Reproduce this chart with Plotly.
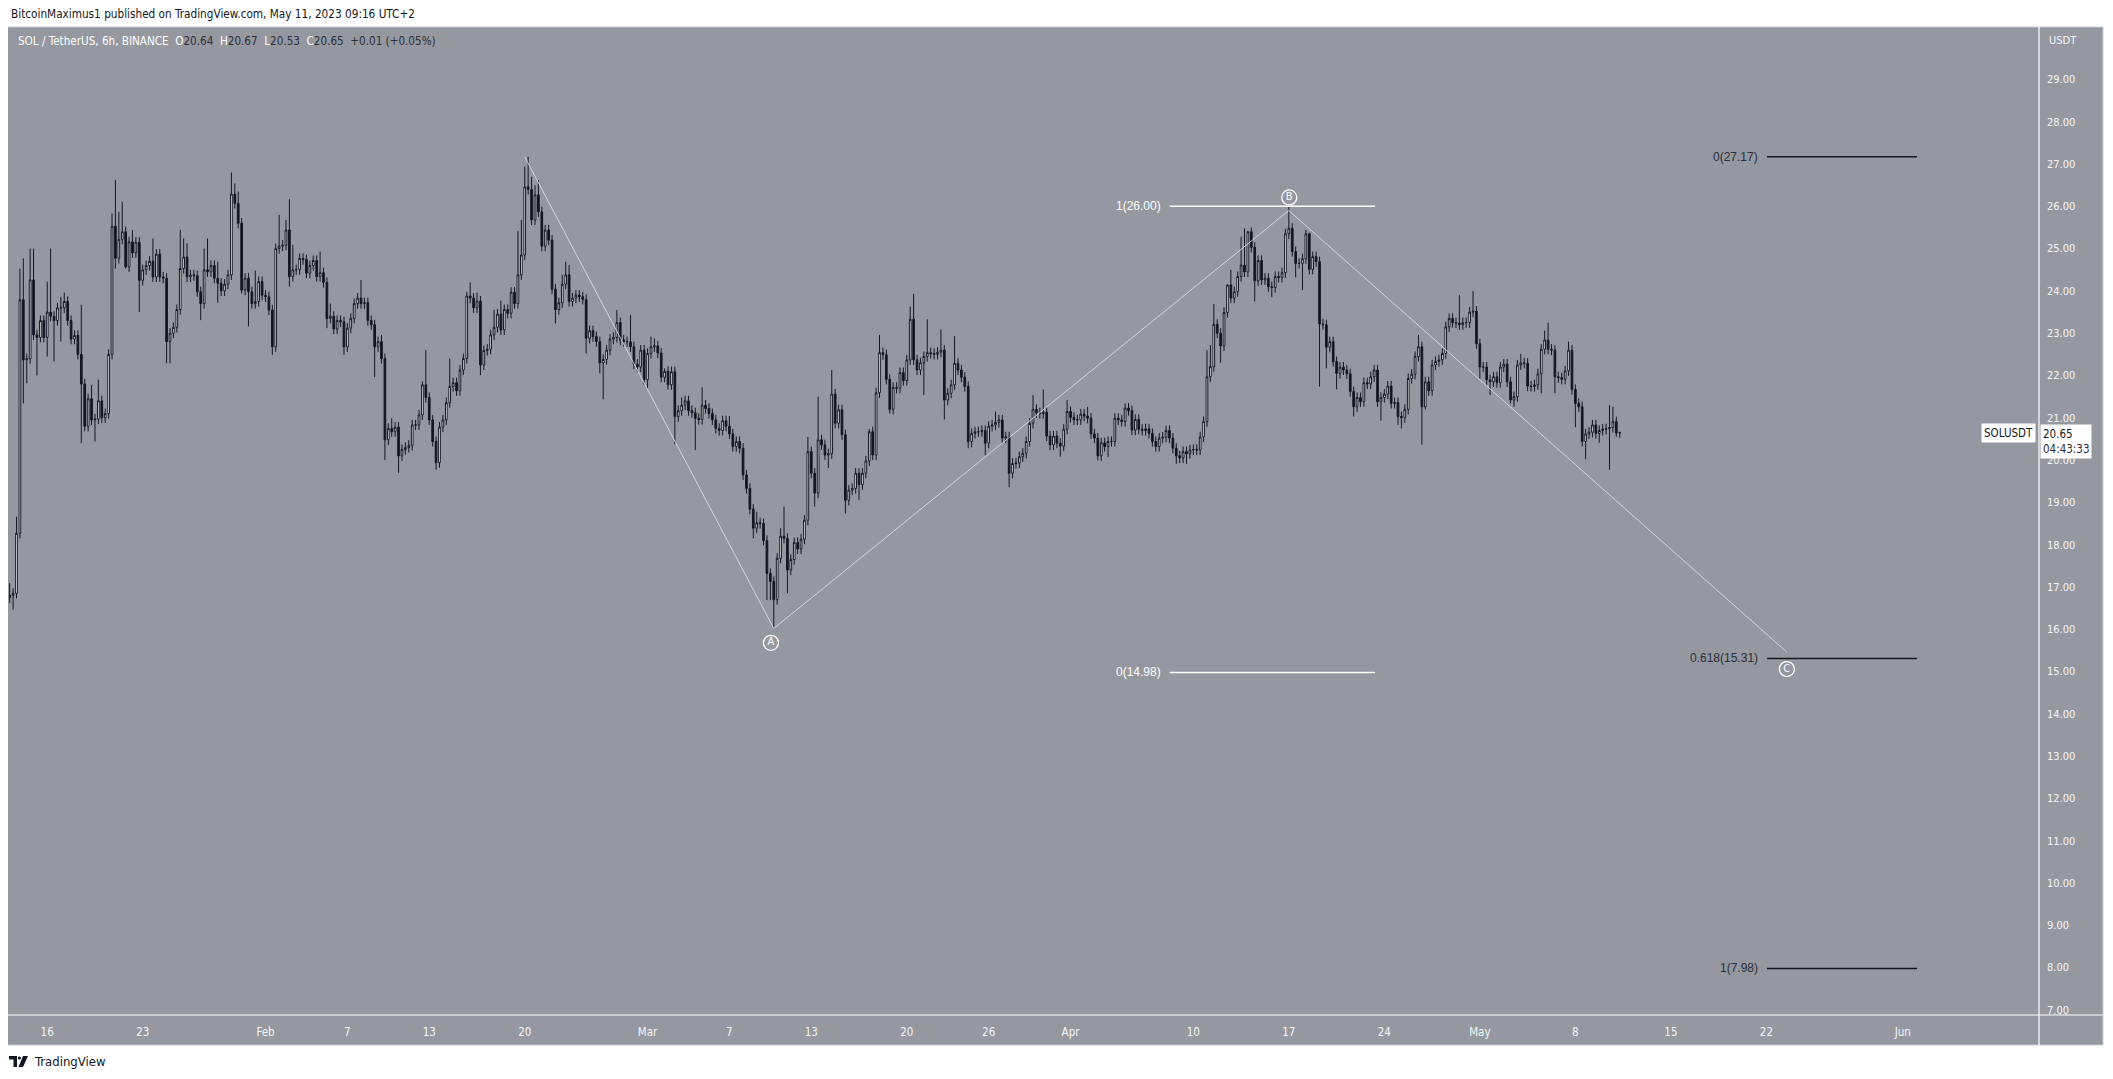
import plotly.graph_objects as go
import pandas as pd

# ---------------- canvas geometry (page pixels; the page body adds an 8px margin) ----------------
OFF = 8
W, H = 2113 - 2 * OFF, 1079 - 2 * OFF
ML, MR, MT, MB = 1, 66, 19, 56
PW = W - ML - MR
PH = H - MT - MB


def px(x):
    return (x - OFF - ML) / PW


def py(y):
    return (H - MB - (y - OFF)) / PH


# ---------------- data (6h SOL/USDT candles) ----------------
START = "2023-01-13 06:00"
FREQ = "6h"
FIRST_OPEN = 16.75

CLOSE_JAN = [
    16.8, 16.85, 18.27, 23.79, 22.37, 22.4, 24.26, 22.96, 22.9, 23.3,
    22.9, 23.5, 23.4, 23.3, 23.6, 23.6, 23.75, 23.3, 22.86, 22.95,
    22.5, 21.8, 20.8, 21.45, 20.95, 20.97, 21.4, 21.0, 21.1, 22.5,
    25.53, 24.77, 25.22, 25.4, 24.57, 25.16, 24.9, 25.15, 24.25, 24.5,
    24.6, 24.7, 24.33, 24.87, 24.33, 24.3, 22.8, 23.0, 23.14, 23.56,
    24.53, 24.8, 24.33, 24.38, 24.36, 23.98, 23.7, 24.5, 24.45, 24.6,
    24.3, 24.18, 24.0, 24.16, 24.38, 26.29, 26.07, 25.6, 24.02, 24.3,
    23.98, 23.7, 23.75, 24.22, 23.9, 23.86, 23.55, 22.68, 25.0, 25.06,
    25.08, 25.44, 24.34, 24.5, 24.5, 24.77, 24.74, 24.42, 24.6, 24.72,
    24.34, 24.43, 24.2, 23.35,
]
CLOSE_FEB = [
    23.4, 23.1, 23.3, 23.27, 22.68, 23.12, 23.35, 23.7, 23.83, 23.7,
    23.72, 23.3, 23.2, 22.68, 22.8, 22.4, 20.48, 20.75, 20.67, 20.78,
    20.1, 20.25, 20.3, 20.35, 20.83, 20.83, 21.07, 21.78, 21.48, 20.95,
    20.44, 19.94, 20.78, 20.95, 21.36, 21.74, 21.83, 21.64, 22.13, 22.4,
    23.88, 23.83, 23.6, 23.76, 22.25, 22.59, 22.62, 22.96, 23.14, 23.45,
    23.08, 23.56, 23.47, 23.97, 23.7, 24.38, 24.85, 26.46, 26.4, 25.68,
    26.27, 25.87, 25.06, 25.44, 25.2, 24.04, 23.56, 23.72, 24.16, 24.38,
    23.75, 23.83, 23.9, 23.86, 23.8, 22.88, 23.06, 22.92, 22.8, 22.3,
    22.38, 22.6, 22.86, 22.9, 23.25, 22.84, 22.8, 22.8, 22.68, 22.27,
    22.2, 22.6, 21.9, 22.52, 22.68,
]
CLOSE_MAR = [
    22.7, 22.53, 21.96, 22.1, 21.78, 22.09, 21.03, 21.17, 21.3, 21.4,
    21.17, 21.12, 20.99, 20.96, 21.3, 21.22, 21.1, 20.95, 20.75, 20.7,
    20.93, 20.8, 20.62, 20.32, 20.44, 20.28, 19.65, 19.33, 18.84, 18.39,
    18.52, 18.5, 18.1, 17.32, 17.13, 16.7, 17.68, 18.2, 18.15, 17.4,
    17.65, 18.05, 17.9, 18.13, 18.58, 20.2, 19.69, 19.22, 20.48, 20.36,
    20.12, 20.15, 21.56, 20.87, 21.19, 20.6, 19.05, 19.29, 19.33, 19.69,
    19.42, 19.69, 19.98, 20.67, 20.12, 21.59, 22.54, 22.49, 21.91, 21.2,
    21.72, 21.7, 22.07, 21.88, 22.37, 23.33, 22.37, 22.13, 22.3, 22.45,
    22.54, 22.52, 22.5, 22.55, 22.6, 21.42, 21.58, 21.78, 22.29, 22.13,
    21.96, 21.74, 20.44, 20.63, 20.67,
]
CLOSE_APR = [
    20.67, 20.7, 20.4, 20.8, 20.83, 20.89, 20.95, 20.52, 20.55, 19.69,
    19.92, 19.93, 20.08, 20.16, 20.44, 20.87, 21.2, 21.12, 21.1, 21.13,
    20.57, 20.36, 20.57, 20.4, 20.33, 20.73, 21.15, 21.01, 20.95, 20.95,
    21.09, 21.04, 20.99, 20.62, 20.52, 20.1, 20.41, 20.32, 20.44, 20.44,
    20.99, 20.95, 20.91, 21.23, 21.17, 20.71, 20.96, 20.73, 20.7, 20.74,
    20.63, 20.44, 20.32, 20.52, 20.54, 20.7, 20.52, 20.28, 20.1, 20.05,
    20.2, 20.15, 20.24, 20.25, 20.24, 20.55, 20.91, 21.97, 22.21, 23.21,
    23.0, 22.7, 23.49, 24.14, 23.83, 23.98, 24.34, 24.61, 24.45, 25.4,
    25.03, 24.24, 24.72, 24.26, 24.3, 24.1, 24.08, 24.34, 24.32, 24.43,
    25.35, 25.48, 24.93, 24.65, 24.65,
]
CLOSE_MAY = [
    24.76, 25.35, 24.51, 24.81, 24.69, 23.22, 23.2, 22.67, 22.8, 22.33,
    22.05, 22.2, 22.13, 22.04, 21.62, 21.26, 21.48, 21.38, 21.83, 21.8,
    21.97, 22.13, 21.38, 21.48, 21.56, 21.75, 21.34, 21.36, 21.03, 21.0,
    21.2, 21.93, 22.03, 22.45, 22.68, 21.26, 21.85, 21.64, 22.25, 22.33,
    22.37, 22.52, 23.15, 23.35, 23.25, 23.24, 23.2, 23.25, 23.25, 23.5,
    23.52, 22.75, 22.2, 22.2, 21.9, 21.85, 21.97, 21.83, 22.2, 22.27,
    21.85, 21.42, 21.5, 22.25, 22.3, 22.29, 21.75, 21.74, 21.78, 22.04,
    22.62, 22.84, 22.62, 22.6, 21.97, 21.95, 21.91, 22.11, 22.6, 21.67,
    21.34, 21.26, 20.44, 20.62, 20.66, 20.83, 20.63, 20.7, 20.73, 20.74,
    20.77, 20.91, 20.64, 20.65,
]

# notable wick extremes (candle index -> price)
WICK_HIGH = {
    0: 17.09, 2: 18.66, 3: 24.53, 4: 24.77, 6: 25.0, 7: 25.0, 11: 24.22, 12: 25.0, 15: 23.86, 16: 23.96,
    21: 23.67, 24: 21.78, 26: 21.9, 30: 25.83, 31: 26.62, 32: 25.87, 33: 26.11, 36: 25.44, 42: 25.24, 50: 25.44,
    51: 25.24, 52: 25.13, 57: 25.0, 58: 25.24, 61: 24.69, 65: 26.8, 66: 26.54, 67: 26.35, 72: 24.48, 79: 25.8,
    81: 25.68, 82: 26.17, 83: 25.09, 91: 24.93,
    94: 23.7, 103: 24.26, 109: 22.96, 112: 20.99, 121: 21.86, 122: 22.6, 129: 22.4, 132: 22.25, 134: 23.98, 135: 24.2,
    137: 23.96, 142: 23.55, 144: 23.77, 149: 25.42, 150: 25.68, 151: 26.94, 152: 27.17, 153: 26.7, 154: 26.5, 155: 26.62,
    162: 24.38, 163: 24.69, 164: 24.61, 178: 23.55, 182: 23.43, 188: 22.92,
    189: 22.88, 192: 22.17, 197: 21.48, 203: 21.72, 211: 21.04, 219: 18.78, 226: 18.39, 227: 18.9, 234: 20.55, 237: 21.5,
    241: 22.13, 252: 20.73, 255: 22.96, 264: 23.63, 265: 23.93, 269: 23.33, 273: 23.09, 277: 22.93,
    289: 21.15, 300: 21.54, 303: 21.67, 310: 21.42, 316: 21.26, 327: 21.34, 351: 22.6, 352: 22.72, 353: 23.69, 357: 24.16,
    358: 24.5, 361: 25.28, 362: 25.48, 363: 25.42, 364: 25.5, 375: 26.0,
    380: 25.44, 381: 25.38, 413: 22.96, 425: 23.9, 429: 24.0, 443: 22.51, 450: 23.06, 451: 23.25, 457: 22.8, 469: 21.3,
    470: 21.26, 472: 20.67,
}
WICK_LOW = {
    0: 16.62, 1: 16.46, 4: 21.34, 5: 21.82, 8: 22.0, 11: 22.45, 13: 22.33, 15: 22.8, 21: 20.4, 25: 20.44,
    31: 24.53, 34: 24.53, 38: 23.5, 46: 22.29, 47: 22.29, 56: 23.31, 61: 23.72, 68: 23.94, 70: 23.16, 77: 22.49,
    82: 24.1, 93: 23.12,
    98: 22.49, 107: 21.96, 110: 20.0, 114: 19.7, 125: 19.77, 138: 22.01, 160: 23.23, 169: 22.52, 173: 22.05, 174: 21.44,
    187: 21.7,
    195: 20.38, 201: 20.24, 218: 18.15, 222: 16.69, 223: 16.69, 224: 16.02, 228: 16.85, 236: 18.9, 240: 19.81, 245: 18.74,
    249: 19.06, 258: 21.1, 268: 21.54, 274: 20.96, 281: 20.28, 282: 20.3,
    286: 20.12, 293: 19.36, 308: 20.08, 319: 19.99, 322: 20.07, 342: 19.91, 345: 19.91, 355: 22.3, 365: 23.75, 370: 23.85,
    377: 24.32,
    379: 24.02, 384: 21.74, 386: 22.17, 389: 21.67, 394: 21.03, 402: 20.93, 407: 20.83, 408: 20.75, 414: 20.36, 415: 21.2,
    431: 21.93, 434: 21.54, 440: 21.34, 441: 21.26, 449: 21.58, 453: 21.58, 459: 20.78, 462: 20.02, 466: 20.41, 469: 19.77,
    471: 20.55, 472: 20.53,
}
TYPICAL_WICK = 0.12

# Elliott wave path
WAVE_X = ["2023-02-20 00:00", "2023-03-10 06:00", "2023-04-17 00:00", "2023-05-23 12:00"]
WAVE_Y = [27.17, 16.02, 25.9, 15.46]
WAVE_LABELS = ["A", "B", "C"]
WAVE_LABEL_X = ["2023-03-10 01:00", "2023-04-17 00:45", "2023-05-23 12:00"]
WAVE_LABEL_Y = [15.68, 26.21, 15.06]

# Fibonacci levels
FIB_LEFT_LEVELS = [26.00, 14.98]
FIB_LEFT_LABELS = ["1(26.00)", "0(14.98)"]
FIB_LEFT_X = ["2023-04-08 06:30", "2023-04-23 07:40"]
FIB_RIGHT_LEVELS = [27.17, 15.31, 7.98]
FIB_RIGHT_LABELS = ["0(27.17)", "0.618(15.31)", "1(7.98)"]
FIB_RIGHT_X = ["2023-05-22 01:00", "2023-06-02 01:00"]

# axes
X_RANGE = ["2023-01-13 04:48", "2023-06-10 23:30"]
Y_RANGE = [6.88, 30.24]
X_TICKS = ["2023-01-16", "2023-01-23", "2023-02-01", "2023-02-07", "2023-02-13", "2023-02-20",
           "2023-03-01", "2023-03-07", "2023-03-13", "2023-03-20", "2023-03-26", "2023-04-01",
           "2023-04-10", "2023-04-17", "2023-04-24", "2023-05-01", "2023-05-08", "2023-05-15",
           "2023-05-22", "2023-06-01"]
X_TICKTEXT = ["16", "23", "Feb", "7", "13", "20", "Mar", "7", "13", "20", "26", "Apr",
              "10", "17", "24", "May", "8", "15", "22", "Jun"]
Y_TICKS = list(range(7, 30))

LAST_PRICE = 20.65
COUNTDOWN = "04:43:33"

# ---------------- build OHLC ----------------
CLOSE = CLOSE_JAN + CLOSE_FEB + CLOSE_MAR + CLOSE_APR + CLOSE_MAY
dates = pd.date_range(START, periods=len(CLOSE), freq=FREQ)
OPEN = [FIRST_OPEN] + CLOSE[:-1]
HIGH, LOW = [], []
for i, (o, c) in enumerate(zip(OPEN, CLOSE)):
    top, bot = max(o, c), min(o, c)
    HIGH.append(max(top, WICK_HIGH.get(i, top + TYPICAL_WICK)))
    LOW.append(min(bot, WICK_LOW.get(i, bot - TYPICAL_WICK)))

BG = "#9598a1"
DARK = "#131722"
NARROW = "Liberation Sans Narrow, Arial Narrow, DejaVu Sans Condensed, sans-serif"
SANS = "Liberation Sans, Arial, sans-serif"
AXIS_TXT = "#f5f6f8"

fig = go.Figure()
fig.add_trace(go.Candlestick(
    x=dates, open=OPEN, high=HIGH, low=LOW, close=CLOSE,
    increasing=dict(line=dict(color=DARK, width=1), fillcolor="#ffffff"),
    decreasing=dict(line=dict(color=DARK, width=1), fillcolor=DARK),
    whiskerwidth=0, hoverinfo="skip", showlegend=False,
))

# wave lines
fig.add_trace(go.Scatter(x=WAVE_X, y=WAVE_Y, mode="lines",
                         line=dict(color="rgba(218,221,228,0.9)", width=1),
                         hoverinfo="skip", showlegend=False))

# fib lines
for lvl in FIB_LEFT_LEVELS:
    fig.add_trace(go.Scatter(x=FIB_LEFT_X, y=[lvl, lvl], mode="lines",
                             line=dict(color="#ffffff", width=1.5),
                             hoverinfo="skip", showlegend=False))
for lvl in FIB_RIGHT_LEVELS:
    fig.add_trace(go.Scatter(x=FIB_RIGHT_X, y=[lvl, lvl], mode="lines",
                             line=dict(color=DARK, width=1.5),
                             hoverinfo="skip", showlegend=False))

# wave labels (circled letters)
fig.add_trace(go.Scatter(
    x=WAVE_LABEL_X, y=WAVE_LABEL_Y, mode="markers+text", text=WAVE_LABELS,
    textposition="middle center",
    textfont=dict(color="#ffffff", size=10, family="DejaVu Sans, sans-serif"),
    marker=dict(symbol="circle-open", size=15, color="#ffffff", line=dict(width=1.3, color="#ffffff")),
    hoverinfo="skip", showlegend=False,
))

annotations = []
for lvl, lab in zip(FIB_LEFT_LEVELS, FIB_LEFT_LABELS):
    annotations.append(dict(x=FIB_LEFT_X[0], y=lvl, xref="x", yref="y", text=lab, showarrow=False,
                            xanchor="right", yanchor="middle", xshift=-7,
                            font=dict(family=SANS, size=12, color="#ffffff")))
for lvl, lab in zip(FIB_RIGHT_LEVELS, FIB_RIGHT_LABELS):
    annotations.append(dict(x=FIB_RIGHT_X[0], y=lvl, xref="x", yref="y", text=lab, showarrow=False,
                            xanchor="right", yanchor="middle", xshift=-7,
                            font=dict(family=SANS, size=12, color="#2a2e39")))

# header texts
annotations.append(dict(x=px(9), y=py(14), xref="paper", yref="paper", showarrow=False,
                        xanchor="left", yanchor="middle",
                        text="BitcoinMaximus1 published on TradingView.com, May 11, 2023 09:16 UTC+2",
                        font=dict(family=NARROW, size=11.7, color=DARK)))


def v(s):
    return f"<span style='color:#2a2e39'>{s}</span>"


hdr = ("SOL / TetherUS, 6h, BINANCE  O" + v("20.64") + "  H" + v("20.67") + "  L" + v("20.53")
       + "  C" + v("20.65") + "  " + v("+0.01 (+0.05%)"))
annotations.append(dict(x=px(16), y=py(41), xref="paper", yref="paper", showarrow=False,
                        xanchor="left", yanchor="middle", text=hdr,
                        font=dict(family=NARROW, size=11.6, color="#ffffff")))
annotations.append(dict(x=px(2047), y=py(40), xref="paper", yref="paper", showarrow=False,
                        xanchor="left", yanchor="middle", text="USDT",
                        font=dict(family=NARROW, size=11, color=AXIS_TXT)))

# last price tags
annotations.append(dict(x=px(2036), y=LAST_PRICE, xref="paper", yref="y", showarrow=False,
                        xanchor="right", yanchor="middle", text="SOLUSDT",
                        bgcolor="#ffffff", borderpad=2,
                        font=dict(family=NARROW, size=11.5, color=DARK)))
annotations.append(dict(x=px(2040), y=py(424), xref="paper", yref="paper", showarrow=False,
                        xanchor="left", yanchor="top", align="left",
                        text=f"{LAST_PRICE:.2f}<br><span style='color:#2a2e39'>{COUNTDOWN}</span>",
                        bgcolor="#ffffff", borderpad=2,
                        font=dict(family=NARROW, size=11.5, color=DARK)))

# footer
annotations.append(dict(x=px(32), y=py(1061), xref="paper", yref="paper", showarrow=False,
                        xanchor="left", yanchor="middle", text="TradingView",
                        font=dict(family=NARROW, size=13, color=DARK)))


def pp(x, y):
    return f"{px(x):.6f},{py(y):.6f}"


shapes = [
    # gray chart panel incl. axes
    dict(type="rect", xref="paper", yref="paper", x0=px(5), x1=px(2103), y0=py(1045), y1=py(27),
         fillcolor=BG, line=dict(color="#c9ccd3", width=1), layer="below"),
    # axis dividers
    dict(type="line", xref="paper", yref="paper", x0=1, x1=1, y0=py(1045), y1=py(27),
         line=dict(color="#ffffff", width=1.2), layer="above"),
    dict(type="line", xref="paper", yref="paper", x0=px(5), x1=px(2103), y0=0, y1=0,
         line=dict(color="#ffffff", width=1.2), layer="above"),
    # TradingView logo
    dict(type="path", xref="paper", yref="paper", layer="above",
         path=f"M{pp(9,1056)} L{pp(17,1056)} L{pp(17,1067)} L{pp(13.5,1067)} L{pp(13.5,1059.5)} L{pp(9,1059.5)} Z",
         fillcolor=DARK, line=dict(width=0)),
    dict(type="circle", xref="paper", yref="paper", layer="above",
         x0=px(17.8), x1=px(21.0), y0=py(1059.6), y1=py(1056.4),
         fillcolor=DARK, line=dict(width=0)),
    dict(type="path", xref="paper", yref="paper", layer="above",
         path=f"M{pp(23,1056)} L{pp(28,1056)} L{pp(23,1067)} L{pp(18.5,1067)} Z",
         fillcolor=DARK, line=dict(width=0)),
]

fig.update_layout(
    width=W, height=H,
    margin=dict(l=ML, r=MR, t=MT, b=MB, pad=0),
    paper_bgcolor="#ffffff", plot_bgcolor=BG,
    showlegend=False, hovermode=False,
    annotations=annotations, shapes=shapes,
    xaxis=dict(type="date", range=X_RANGE, rangeslider=dict(visible=False),
               showgrid=False, zeroline=False, showline=False, ticks="",
               tickvals=X_TICKS, ticktext=X_TICKTEXT, ticklabelstandoff=8,
               tickfont=dict(family=NARROW, size=11.5, color=AXIS_TXT)),
    yaxis=dict(side="right", range=Y_RANGE, showgrid=False, zeroline=False, showline=False,
               ticks="", tickvals=Y_TICKS, ticktext=[f"{t:.2f}" for t in Y_TICKS],
               ticklabelstandoff=7,
               tickfont=dict(family=NARROW, size=11, color=AXIS_TXT)),
)

fig.write_html("out.html")
